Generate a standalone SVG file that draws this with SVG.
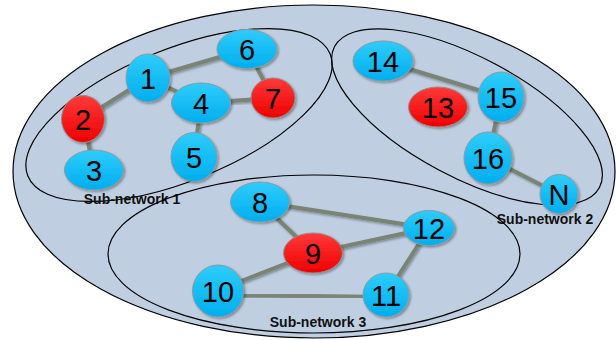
<svg xmlns="http://www.w3.org/2000/svg" width="616" height="340" viewBox="0 0 616 340">
<defs>
<linearGradient id="gb" x1="0" y1="0" x2="0" y2="1">
<stop offset="0" stop-color="#2fccfa"/>
<stop offset="1" stop-color="#00aeee"/>
</linearGradient>
<linearGradient id="gr" x1="0" y1="0" x2="0" y2="1">
<stop offset="0" stop-color="#ff3a3a"/>
<stop offset="1" stop-color="#ee0000"/>
</linearGradient>
<filter id="sh" x="-20%" y="-20%" width="150%" height="150%">
<feDropShadow dx="1.5" dy="1.5" stdDeviation="1" flood-color="#000" flood-opacity="0.35"/>
</filter>
</defs>
<style>
.blue{fill:url(#gb);stroke:#8c9aa4;stroke-width:1;filter:url(#sh)}
.red{fill:url(#gr);stroke:#9a8a8a;stroke-width:1;filter:url(#sh)}
.lbl{font-family:"Liberation Sans",Arial,sans-serif;font-size:29px;fill:#000;text-anchor:middle}
.sub{font-family:"Liberation Sans",Arial,sans-serif;font-size:14px;font-weight:bold;fill:#111;text-anchor:middle}
.net{fill:none;stroke:#000;stroke-width:1.2}
#edges line{stroke:#798476;stroke-width:4;filter:url(#sh)}
</style>
<g id="network">
<ellipse cx="314" cy="171.5" rx="301" ry="166.5" fill="#bfcfe1" stroke="#000" stroke-width="1.2"/>
</g>
<g id="subnet1"><ellipse class="net" cx="179" cy="115" rx="163" ry="66" transform="rotate(-22 179 115)"/><text class="sub" x="132" y="204">Sub-network 1</text></g>
<g id="subnet2"><ellipse class="net" cx="467" cy="117" rx="150" ry="60" transform="rotate(28 467 117)"/><text class="sub" x="545" y="224">Sub-network 2</text></g>
<g id="subnet3"><ellipse class="net" cx="314" cy="254" rx="206" ry="79"/><text class="sub" x="318" y="327">Sub-network 3</text></g>
<g id="edges">
<line x1="148" y1="78" x2="83" y2="119"/>
<line x1="148" y1="78" x2="247" y2="49"/>
<line x1="148" y1="78" x2="201" y2="103"/>
<line x1="201" y1="103" x2="273" y2="98"/>
<line x1="247" y1="49" x2="273" y2="98"/>
<line x1="201" y1="103" x2="194" y2="157"/>
<line x1="83" y1="119" x2="94" y2="170"/>
<line x1="383" y1="61" x2="501" y2="97"/>
<line x1="501" y1="97" x2="488" y2="158"/>
<line x1="488" y1="158" x2="559" y2="194"/>
<line x1="260" y1="202" x2="429" y2="228"/>
<line x1="260" y1="202" x2="313" y2="253"/>
<line x1="313" y1="253" x2="429" y2="228"/>
<line x1="313" y1="253" x2="218" y2="290"/>
<line x1="218" y1="295" x2="386" y2="297"/>
<line x1="386" y1="295" x2="429" y2="228"/>
</g>
<g id="n1"><ellipse class="blue" cx="148" cy="78" rx="22" ry="24"/><text class="lbl" x="148" y="89">1</text></g>
<g id="n2"><ellipse class="red" cx="83" cy="119" rx="21.5" ry="23.5"/><text class="lbl" x="83" y="130">2</text></g>
<g id="n3"><ellipse class="blue" cx="94" cy="170" rx="29.5" ry="20"/><text class="lbl" x="94" y="181">3</text></g>
<g id="n4"><ellipse class="blue" cx="201" cy="103" rx="29.5" ry="20"/><text class="lbl" x="201" y="114">4</text></g>
<g id="n5"><ellipse class="blue" cx="194" cy="157" rx="23" ry="24.5"/><text class="lbl" x="194" y="168">5</text></g>
<g id="n6"><ellipse class="blue" cx="247" cy="49" rx="30" ry="19.5"/><text class="lbl" x="247" y="60">6</text></g>
<g id="n7"><ellipse class="red" cx="273" cy="98" rx="22" ry="20"/><text class="lbl" x="273" y="109">7</text></g>
<g id="n8"><ellipse class="blue" cx="260" cy="202" rx="29.5" ry="20"/><text class="lbl" x="260" y="213">8</text></g>
<g id="n9"><ellipse class="red" cx="313" cy="253" rx="29.5" ry="20"/><text class="lbl" x="313" y="264">9</text></g>
<g id="n10"><ellipse class="blue" cx="218" cy="291" rx="25.5" ry="26"/><text class="lbl" x="218" y="302">10</text></g>
<g id="n11"><ellipse class="blue" cx="386" cy="295" rx="23" ry="22"/><text class="lbl" x="386" y="306">11</text></g>
<g id="n12"><ellipse class="blue" cx="429" cy="228" rx="25.5" ry="17.5"/><text class="lbl" x="429" y="239">12</text></g>
<g id="n13"><ellipse class="red" cx="438" cy="107" rx="29.5" ry="20"/><text class="lbl" x="438" y="118">13</text></g>
<g id="n14"><ellipse class="blue" cx="383" cy="61" rx="30" ry="20"/><text class="lbl" x="383" y="72">14</text></g>
<g id="n15"><ellipse class="blue" cx="501" cy="97" rx="23" ry="25"/><text class="lbl" x="501" y="108">15</text></g>
<g id="n16"><ellipse class="blue" cx="488" cy="158" rx="24" ry="26"/><text class="lbl" x="488" y="169">16</text></g>
<g id="nN"><ellipse class="blue" cx="559" cy="194" rx="19" ry="19.5"/><text class="lbl" x="559" y="205">N</text></g>
</svg>
